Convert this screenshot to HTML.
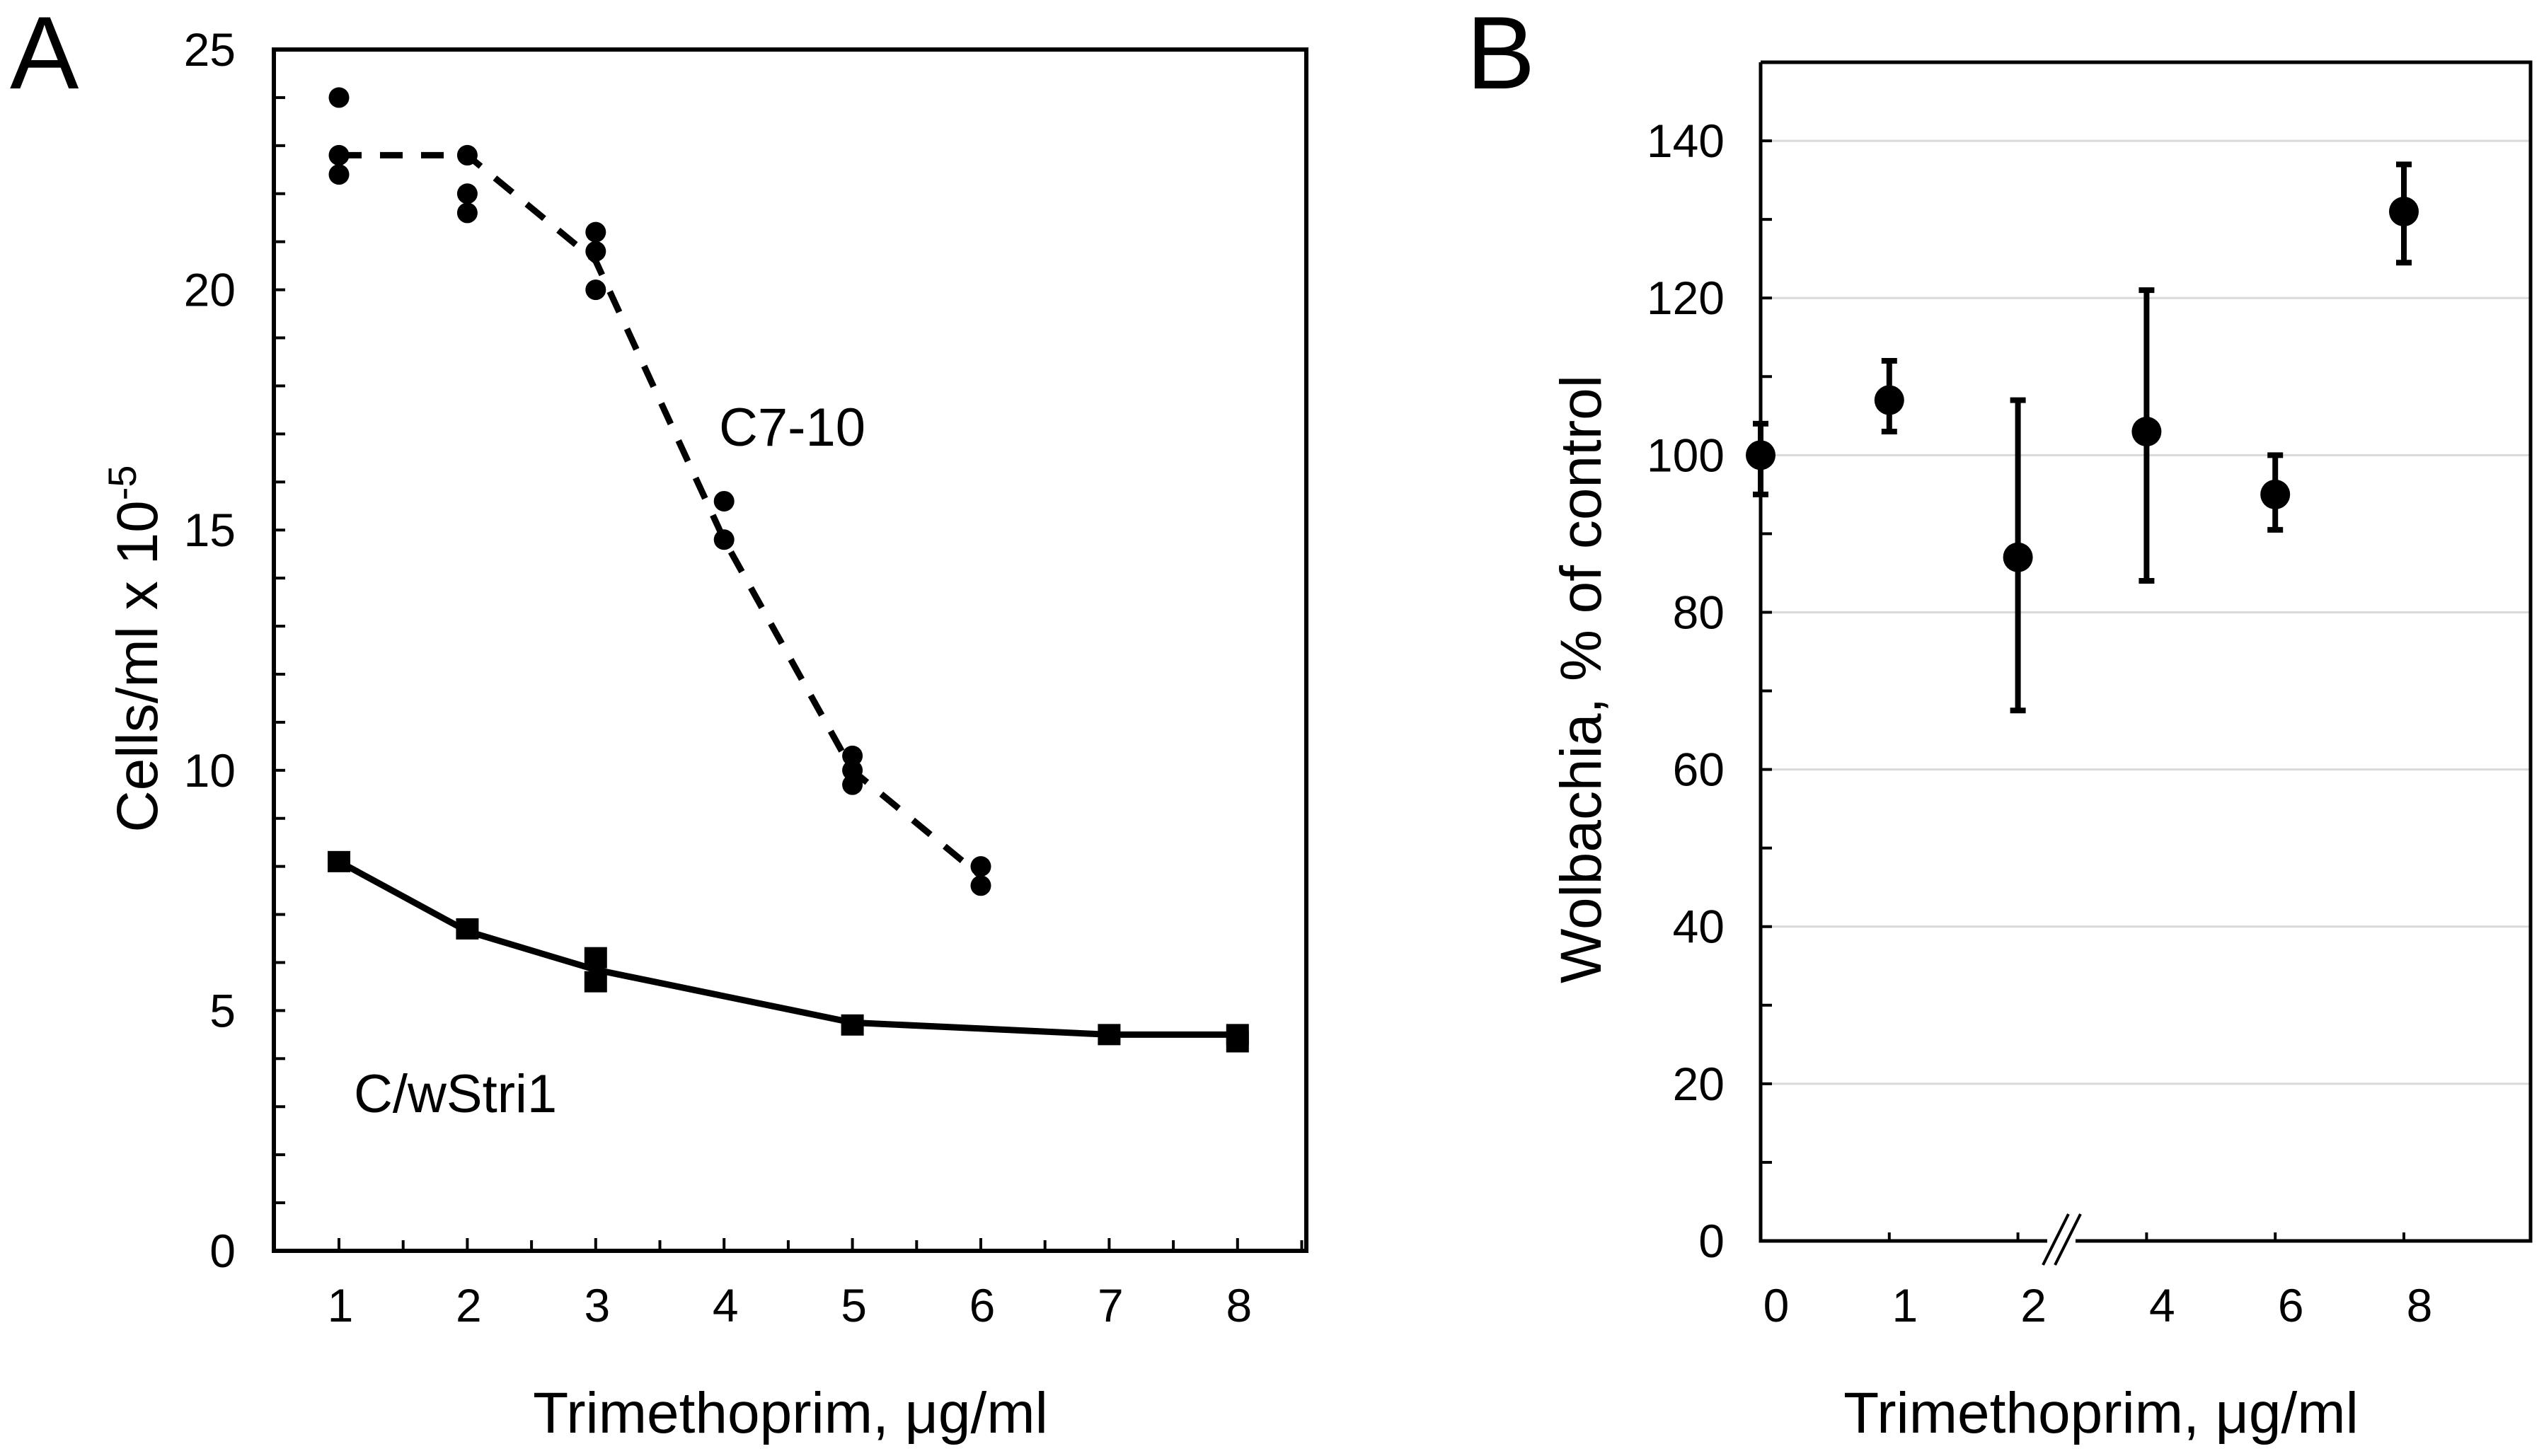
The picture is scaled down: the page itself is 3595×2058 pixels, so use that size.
<!DOCTYPE html>
<html><head><meta charset="utf-8"><style>
html,body{margin:0;padding:0;background:#fff}
svg{display:block}
text{font-family:"Liberation Sans",Arial,sans-serif;fill:#000}
</style></head><body>
<svg id="fig" width="3595" height="2058" viewBox="0 0 3595 2058" xmlns="http://www.w3.org/2000/svg">
<g id="panelA"></g>
<g id="panelB"></g>
</svg>
<script>
// Panel A data
const aTicksX = [1,2,3,4,5,6,7,8];
const aTicksY = [0,5,10,15,20,25];
const c710X = [1,1,1,2,2,2,3,3,3,4,4,5,5,5,6,6];
const c710Y = [24,22.8,22.4,22.8,22.0,21.6,21.2,20.8,20.0,15.6,14.8,10.3,10.0,9.7,8.0,7.6];
const c710LineX = [1,2,3,4,5,6];
const c710LineY = [22.8,22.8,20.6,14.8,10.0,7.8];
const wsX = [1,2,3,3,5,7,8,8];
const wsY = [8.1,6.7,6.1,5.6,4.7,4.5,4.5,4.35];
const wsLineX = [1,2,3,5,7,8];
const wsLineY = [8.1,6.65,5.85,4.75,4.5,4.5];
// Panel B data
const bCats = ["0","1","2","4","6","8"];
const bMean = [100,107,87,103,95,131];
const bLow = [95,103,67.5,84,90.5,124.5];
const bHigh = [104,112,107,121,100,137];
const bTicksY = [0,20,40,60,80,100,120,140];

const NS="http://www.w3.org/2000/svg";
function mk(parent,tag,attrs,txt){const e=document.createElementNS(NS,tag);for(const k in attrs)e.setAttribute(k,attrs[k]);if(txt!==undefined)e.textContent=txt;parent.appendChild(e);return e;}

// ---- Panel A ----
const A=document.getElementById('panelA');
const aL=387,aR=1846,aT=70,aB=1768;
const ax=v=>479+(v-1)*181.4;
const ay=v=>aB-(v/25)*(aB-aT);
let e;
e=mk(A,'text',{x:14,y:125,'font-size':146},'A');


e=mk(A,'rect',{x:aL,y:aT,width:aR-aL,height:aB-aT,fill:'none',stroke:'#000','stroke-width':6});


for(let v=1;v<25;v++){e=mk(A,'line',{x1:aL,x2:aL+16,y1:ay(v),y2:ay(v),stroke:'#000','stroke-width':4});

}
aTicksY.forEach(v=>{e=mk(A,'text',{x:333,y:ay(v)+23,'font-size':66,'text-anchor':'end'},String(v));

});
for(let v=1;v<=8.5;v+=0.5){const maj=Number.isInteger(v);e=mk(A,'line',{x1:ax(v),x2:ax(v),y1:aB,y2:aB-(maj?18:15),stroke:'#000','stroke-width':4});

}
aTicksX.forEach(v=>{e=mk(A,'text',{x:ax(v)+2,y:1868,'font-size':66,'text-anchor':'middle'},String(v));

});
e=mk(A,'text',{x:1117,y:2025,'font-size':82,'text-anchor':'middle'},'Trimethoprim, μg/ml');


e=mk(A,'text',{x:0,y:0,'font-size':82,'text-anchor':'middle',transform:'translate(222,917) rotate(-90)'});


e.innerHTML='Cells/ml x 10<tspan dy="-30" font-size="56">-5</tspan>';
e=mk(A,'polyline',{points:c710LineX.map((x,i)=>ax(x)+','+ay(c710LineY[i])).join(' '),fill:'none',stroke:'#000','stroke-width':9,'stroke-dasharray':'32,26'});


c710X.forEach((x,i)=>{e=mk(A,'circle',{cx:ax(x),cy:ay(c710Y[i]),r:14.5,fill:'#000'});

});
e=mk(A,'polyline',{points:wsLineX.map((x,i)=>ax(x)+','+ay(wsLineY[i])).join(' '),fill:'none',stroke:'#000','stroke-width':9});


wsX.forEach((x,i)=>{e=mk(A,'rect',{x:ax(x)-16,y:ay(wsY[i])-15,width:32,height:30,fill:'#000'});

});
e=mk(A,'text',{x:1016,y:630,'font-size':76},'C7-10');


e=mk(A,'text',{x:500,y:1572,'font-size':76},'C/wStri1');



// ---- Panel B ----
const B=document.getElementById('panelB');
const bL=2488,bR=3576,bT=88,bBt=1754;
const bx=i=>bL+i*181.8;
const by=v=>bBt-(v/150)*(bBt-bT);
e=mk(B,'text',{x:2072,y:125,'font-size':146},'B');


bTicksY.forEach(v=>{if(v>0){e=mk(B,'line',{x1:bL,x2:bR,y1:by(v),y2:by(v),stroke:'#d9d9d9','stroke-width':3});

}});
e=mk(B,'polyline',{points:`${bL},${bT} ${bL},${bBt} ${bR},${bBt} ${bR},${bT} ${bL},${bT}`,fill:'none',stroke:'#000','stroke-width':5});


for(let v=10;v<150;v+=10){e=mk(B,'line',{x1:bL,x2:bL+16,y1:by(v),y2:by(v),stroke:'#000','stroke-width':4});

}
bTicksY.forEach(v=>{e=mk(B,'text',{x:2437,y:by(v)+23,'font-size':66,'text-anchor':'end'},String(v));

});
bCats.forEach((c,i)=>{
if(i>0){e=mk(B,'line',{x1:bx(i),x2:bx(i),y1:bBt,y2:bBt-12,stroke:'#000','stroke-width':4});

}
e=mk(B,'text',{x:bx(i)+22,y:1868,'font-size':66,'text-anchor':'middle'},c);


});
// axis break
e=mk(B,'rect',{x:2893,y:bBt-4,width:40,height:8,fill:'#fff'});


e=mk(B,'line',{x1:2887,y1:bBt+34,x2:2923,y2:bBt-38,stroke:'#000','stroke-width':4});


e=mk(B,'line',{x1:2904,y1:bBt+34,x2:2940,y2:bBt-38,stroke:'#000','stroke-width':4});


bMean.forEach((m,i)=>{
const x=bx(i);
e=mk(B,'line',{x1:x,x2:x,y1:by(bLow[i]),y2:by(bHigh[i]),stroke:'#000','stroke-width':8});


e=mk(B,'line',{x1:x-11,x2:x+11,y1:by(bLow[i]),y2:by(bLow[i]),stroke:'#000','stroke-width':8});


e=mk(B,'line',{x1:x-11,x2:x+11,y1:by(bHigh[i]),y2:by(bHigh[i]),stroke:'#000','stroke-width':8});


e=mk(B,'circle',{cx:x,cy:by(m),r:21,fill:'#000'});


});
e=mk(B,'text',{x:2969,y:2025,'font-size':82,'text-anchor':'middle'},'Trimethoprim, μg/ml');


e=mk(B,'text',{x:0,y:0,'font-size':82,'text-anchor':'middle',transform:'translate(2262,960) rotate(-90)'},'Wolbachia, % of control');


</script>
</body></html>
